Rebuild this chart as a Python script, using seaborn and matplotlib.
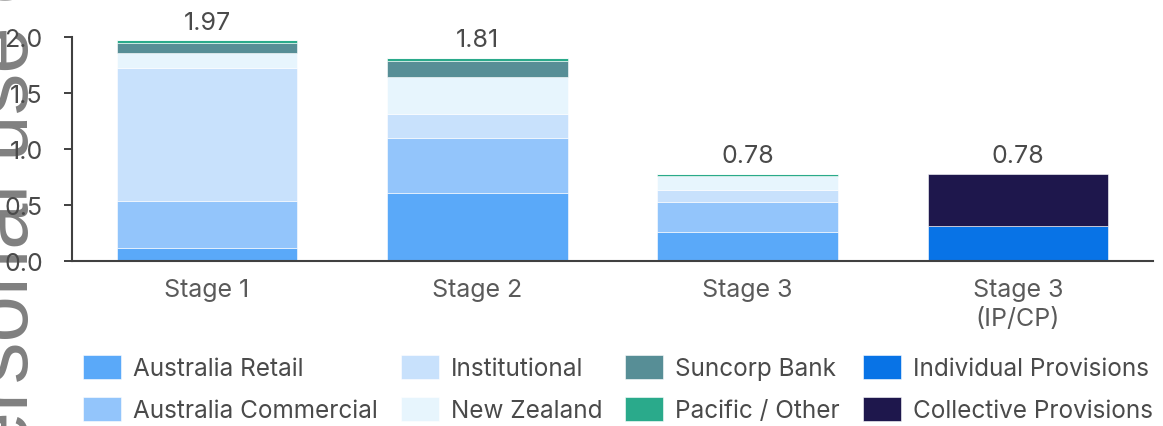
import pandas as pd
import numpy as np
import matplotlib
matplotlib.use('Agg')
import matplotlib.pyplot as plt
import seaborn as sns

# ── data ────────────────────────────────────────────────────────────────
stages = ['Stage 1', 'Stage 2', 'Stage 3', 'Stage 3\n(IP/CP)']

segments = ['Australia Retail', 'Australia Commercial', 'Institutional',
            'New Zealand', 'Suncorp Bank', 'Pacific / Other',
            'Individual Provisions', 'Collective Provisions']

aus_retail     = [0.12, 0.61, 0.26, 0.00]
aus_commercial = [0.42, 0.49, 0.27, 0.00]
institutional  = [1.18, 0.21, 0.10, 0.00]
new_zealand    = [0.14, 0.33, 0.13, 0.00]
suncorp_bank   = [0.09, 0.15, 0.00, 0.00]
pacific_other  = [0.02, 0.02, 0.02, 0.00]
individual     = [0.00, 0.00, 0.00, 0.31]
collective     = [0.00, 0.00, 0.00, 0.47]

totals = [1.97, 1.81, 0.78, 0.78]

colors = ['#5aa9f9', '#93c5fb', '#c8e1fc', '#e7f5fd',
          '#578e96', '#2aaa8b', '#0873e6', '#1e174c']

yticks = [0.0, 0.5, 1.0, 1.5, 2.0]

# ── long form table ─────────────────────────────────────────────────────
values = [aus_retail, aus_commercial, institutional, new_zealand,
          suncorp_bank, pacific_other, individual, collective]
df = pd.DataFrame(np.array(values).T, index=stages, columns=segments)
bottoms = df.cumsum(axis=1) - df

# ── style ───────────────────────────────────────────────────────────────
sns.set_theme(style='white')
plt.rcParams['font.family'] = ['Inter', 'DejaVu Sans']
TXT = '#4a4a4a'
FS = 18
LFS = 17.5

fig = plt.figure(figsize=(11.63, 4.27), dpi=100)
ax = fig.add_axes([72 / 1163, 165 / 427, 1081 / 1163, 224 / 427])
ax.set_facecolor('none')

for seg, col in zip(segments, colors):
    sub = pd.DataFrame({'stage': stages, 'value': df[seg].values,
                        'bottom': bottoms[seg].values})
    sns.barplot(data=sub, x='stage', y='value', bottom=sub['bottom'],
                color=col, width=0.667, ax=ax, label=seg,
                edgecolor='white', linewidth=0.4, saturation=1)

for i, t in enumerate(totals):
    ax.annotate(f'{t:.2f}', xy=(i, t), xytext=(0, 8.5),
                textcoords='offset points', ha='center', va='baseline',
                fontsize=FS, color=TXT, annotation_clip=False)

ax.set_xlim(-0.5, 3.5)
ax.set_ylim(0, 2.0)
ax.set_yticks(yticks)
ax.set_yticklabels([f'{v:.1f}' for v in yticks])
ax.set_xlabel('')
ax.set_ylabel('')
ax.tick_params(axis='x', length=0, pad=12, labelsize=FS, labelcolor='#5a5a5a')
ax.tick_params(axis='y', left=True, length=6, width=1.4, color='#404040',
               pad=15, labelsize=FS, labelcolor=TXT)
for lbl in ax.get_xticklabels():
    lbl.set_linespacing(1.35)
sns.despine(ax=ax)
for side in ['left', 'bottom']:
    ax.spines[side].set_color('#404040')
    ax.spines[side].set_linewidth(1.5)

# legend, 4 columns x 2 rows
handles, labels = ax.get_legend_handles_labels()
if ax.get_legend():
    ax.get_legend().remove()
fig.legend(handles, labels, ncol=4, loc='center left',
           bbox_to_anchor=(83 / 1163, 37.5 / 427), frameon=False,
           fontsize=LFS, labelcolor=TXT, borderpad=0, borderaxespad=0,
           handlelength=27.4 / LFS, handleheight=20 / LFS,
           handletextpad=8.6 / LFS, columnspacing=16.5 / LFS,
           labelspacing=0.7)

# watermark
fig.text(28 / 1163, (427 - 652) / 427, 'For personal use only', rotation=90,
         rotation_mode='anchor', ha='left', va='baseline',
         fontsize=60, color='#808080', zorder=-1,
         family=['Liberation Sans', 'DejaVu Sans'])

fig.savefig('out.png', dpi=100)
